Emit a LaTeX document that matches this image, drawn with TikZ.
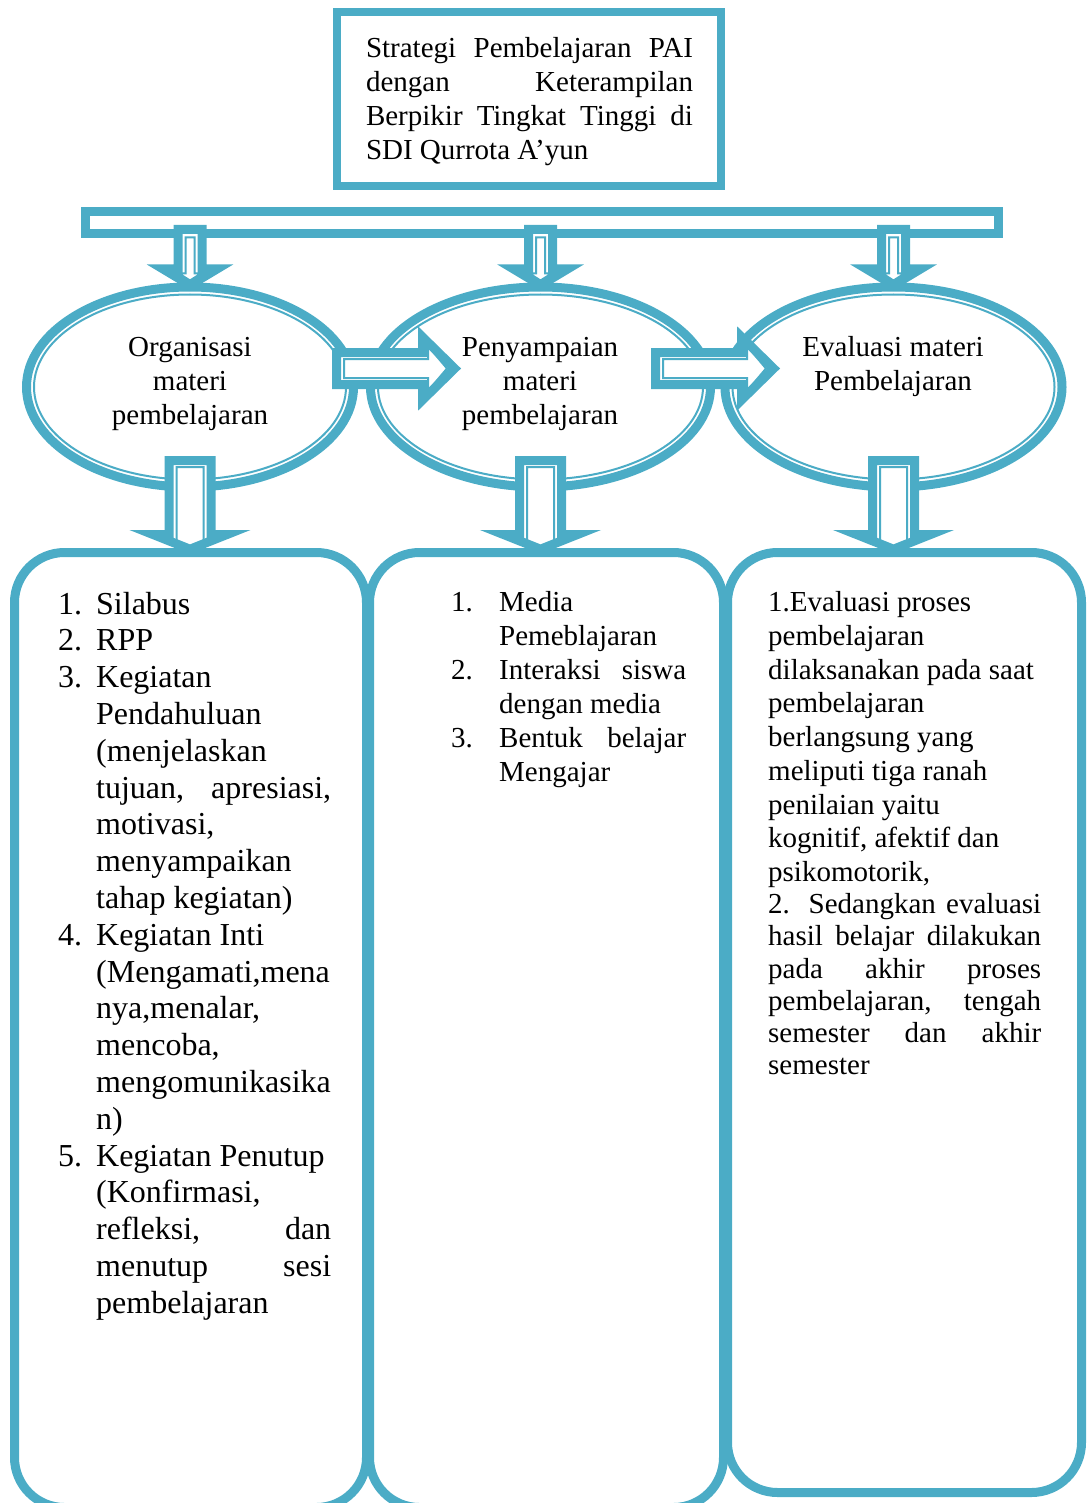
\documentclass[tikz,border=0pt]{standalone}
\usepackage{fontspec}
\setmainfont{Liberation Serif}
\usetikzlibrary{shapes.geometric}
\definecolor{aksen}{HTML}{4BACC6}
\tolerance=10000
\hyphenpenalty=10000

\begin{document}
\begin{tikzpicture}[x=1pt, y=-1pt,
    tebal/.style={draw=aksen, line width=9pt},
    tipis/.style={draw=aksen, line width=2pt},
    oval/.style={tebal, ellipse, fill=white, minimum height=200pt, inner sep=0pt},
    panel/.style={tebal, rectangle, rounded corners=50pt, inner sep=0pt},
    teks/.style={inner sep=0pt, font=\fontsize{29}{34}\selectfont}]
\useasboundingbox (0,0) rectangle (1087,1503);
\clip (0,0) rectangle (1087,1503);

% judul
\node[draw=aksen, line width=7pt, minimum width=385pt, minimum height=175pt, inner sep=0pt] (judul) at (529,99) {};
\draw[tipis] ([shift={(7,7)}]judul.north west) rectangle ([shift={(-7,-7)}]judul.south east);
\node[teks, text width=327pt, align=justify] (judultxt) at (529.5,102) {Strategi Pembelajaran PAI\linebreak dengan Keterampilan\linebreak Berpikir Tingkat Tinggi di\linebreak SDI Qurrota A’yun};

% batang
\node[tebal, minimum width=913pt, minimum height=22pt, inner sep=0pt] (bar) at (542,222.5) {};
\draw[tipis] ([shift={(7.5,7.5)}]bar.north west) rectangle ([shift={(-7.5,-7.5)}]bar.south east);

% oval
\foreach \n/\x/\w/\r in {org/190/327/156,pen/540.5/340/162.5,eva/893.5/337/161}
{
    \node[oval, minimum width=\w pt] (\n) at (\x,387) {};
    \draw[tipis] (\n.center) ellipse [x radius=\r pt, y radius=92.5pt];
}

% panel
\node[panel, minimum width=352pt, minimum height=955pt] (boxorg) at (190.5,1030) {};
\node[panel, minimum width=354pt, minimum height=955pt] (boxpen) at (546.5,1030) {};
\node[panel, minimum width=354pt, minimum height=940pt] (boxeva) at (904.5,1022.5) {};
\foreach \n in {boxorg,boxpen,boxeva}
    \draw[tipis, rounded corners=42pt] ([shift={(7.5,7.5)}]\n.north west) rectangle ([shift={(-7.5,-7.5)}]\n.south east);

% panah batang -> oval
\foreach \n in {org,pen,eva}
{
    \begin{scope}[shift={(\n.north)}]
        \draw[tebal, fill=white] (-12,-53) -- (-12,-13.5) -- (-27,-13.5) -- (0,2.7) -- (27,-13.5) -- (12,-13.5) -- (12,-53) -- cycle;
        \draw[tipis] (-4.5,-45) -- (-4.5,-9) -- (-11,-9) -- (0,-2) -- (11,-9) -- (4.5,-9) -- (4.5,-45) -- cycle;
    \end{scope}
}

% panah oval -> panel
\foreach \n in {org,pen,eva}
{
    \begin{scope}[shift={(\n.south)}]
        \draw[tebal, fill=white] (-21,-31) -- (-21,43) -- (-37,43) -- (0,57.7) -- (37,43) -- (21,43) -- (21,-31) -- cycle;
        \draw[tipis] (-13.5,-24.5) -- (-13.5,48.5) -- (-24,48.5) -- (0,55.5) -- (24,48.5) -- (13.5,48.5) -- (13.5,-24.5) -- cycle;
    \end{scope}
}

% panah antar oval
\foreach \s in {332,651}
{
    \draw[tebal, fill=white] (\s+4.5,352.5) -- (\s+90.5,352.5) -- (\s+90.5,337) -- (\s+122.6,368.5) -- (\s+90.5,400) -- (\s+90.5,384.5) -- (\s+4.5,384.5) -- cycle;
    \draw[tipis] (\s+12,359) -- (\s+96,359) -- (\s+96,346) -- (\s+115,368.5) -- (\s+96,391) -- (\s+96,378) -- (\s+12,378) -- cycle;
}

% teks oval
\node[teks, anchor=base] (orgtxt) at (190,356.5) {\begin{tabular}[t]{@{}c@{}}Organisasi\\materi\\pembelajaran\end{tabular}};
\node[teks, anchor=base] (pentxt) at (540,356.5) {\begin{tabular}[t]{@{}c@{}}Penyampaian\\materi\\pembelajaran\end{tabular}};
\node[teks, anchor=base] (evatxt) at (893,356.5) {\begin{tabular}[t]{@{}c@{}}Evaluasi materi\\Pembelajaran\end{tabular}};

% isi panel
\node[teks, anchor=base west, font=\fontsize{32}{36.8}\selectfont] (orgisi) at (58,614) {\begin{tabular}[t]{@{}p{38pt}@{}p{235pt}@{}}
1. & Silabus\\
2. & RPP\\
3. & Kegiatan\newline Pendahuluan\newline (menjelaskan\newline tujuan, apresiasi,\linebreak motivasi,\newline menyampaikan\newline tahap kegiatan)\\
4. & Kegiatan Inti\newline (Mengamati,mena\newline nya,menalar,\newline mencoba,\newline mengomunikasika\newline n)\\
5. & Kegiatan Penutup\newline (Konfirmasi,\newline refleksi, dan\linebreak menutup sesi\linebreak pembelajaran
\end{tabular}};
\node[teks, anchor=base west] (penisi) at (451,611.5) {\begin{tabular}[t]{@{}p{48pt}@{}p{187pt}@{}}
1. & Media\newline Pemeblajaran\\
2. & Interaksi siswa\linebreak dengan media\\
3. & Bentuk belajar\linebreak Mengajar
\end{tabular}};
\node[teks, anchor=base west] (evaisi) at (768,611.5) {\begin{tabular}[t]{@{}p{273pt}@{}}
{\fontsize{29}{33.75}\selectfont 1.Evaluasi proses\newline pembelajaran\newline dilaksanakan pada saat\newline pembelajaran\newline berlangsung yang\newline meliputi tiga ranah\newline penilaian yaitu\newline kognitif, afektif dan\newline psikomotorik,\par}
{\fontsize{29}{32.2}\selectfont 2. Sedangkan evaluasi\linebreak hasil belajar dilakukan\linebreak pada akhir proses\linebreak pembelajaran, tengah\linebreak semester dan akhir\linebreak semester\par}
\end{tabular}};
\end{tikzpicture}
\end{document}
